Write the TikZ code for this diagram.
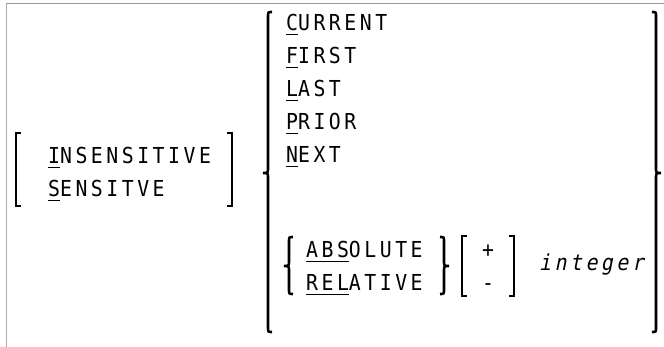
\documentclass[tikz,border=0pt]{standalone}
\usepackage{fontspec}
\newfontfamily\monofnt{DejaVu Sans Mono}[FakeStretch=0.9, LetterSpace=16]
\newfontfamily\monoitfnt{DejaVu Sans Mono}[FakeStretch=0.9, LetterSpace=16, FakeSlant=0.2]
\newcommand\ulx[1]{\setbox0\hbox{#1}\rlap{\rule[-3.5pt]{\wd0}{0.9pt}}\box0}
\newcommand\mylbrace[4]{\draw[brc] ({#1+4},#2) .. controls (#1,#2) .. (#1,{#2+5}) -- (#1,{#4-5}) .. controls (#1,#4) .. ({#1-5},#4) .. controls (#1,#4) .. (#1,{#4+5}) -- (#1,{#3-5}) .. controls (#1,#3) .. ({#1+4},#3);}
\newcommand\myrbrace[4]{\draw[brc] ({#1-4},#2) .. controls (#1,#2) .. (#1,{#2+5}) -- (#1,{#4-5}) .. controls (#1,#4) .. ({#1+5},#4) .. controls (#1,#4) .. (#1,{#4+5}) -- (#1,{#3-5}) .. controls (#1,#3) .. ({#1-4},#3);}
\newcommand\mylbrack[3]{\draw[brc,line join=miter] ({#1+5},#2) -- (#1,#2) -- (#1,#3) -- ({#1+5},#3);}
\newcommand\myrbrack[3]{\draw[brc,line join=miter] ({#1-5},#2) -- (#1,#2) -- (#1,#3) -- ({#1-5},#3);}
\tikzset{
  txt/.style={font=\monofnt\fontsize{22pt}{26pt}\selectfont, inner sep=0pt, anchor=base west},
  itxt/.style={font=\monoitfnt\fontsize{22pt}{26pt}\selectfont, inner sep=0pt, anchor=base west},
  sym/.style={font=\monofnt\fontsize{22pt}{26pt}\selectfont, inner sep=0pt, anchor=base},
  brc/.style={line width=2.6pt, black},
}
\begin{document}
\begin{tikzpicture}[x=1pt,y=-1pt]
\useasboundingbox (0,0) rectangle (664,347);
\fill[white] (0,0) rectangle (664,347);
\draw[black!40, line width=1pt] (6,3.5) -- (664,3.5);
\draw[black!32, line width=1.6pt] (6.5,3) -- (6.5,347);
% left bracket group
\mylbrack{16}{133}{206}
\myrbrack{232}{133}{206}
\node[txt] (ins) at (48,164) {\ulx{I}NSENSITIVE};
\node[txt] (sen) at (48,197) {\ulx{S}ENSITVE};
% big brace group
\mylbrace{268}{12}{332}{173}
\myrbrace{656}{12}{332}{173}
\node[txt] (cur) at (286,31) {\ulx{C}URRENT};
\node[txt] (fir) at (286,64) {\ulx{F}IRST};
\node[txt] (las) at (286,97) {\ulx{L}AST};
\node[txt] (pri) at (286,130) {\ulx{P}RIOR};
\node[txt] (nxt) at (286,163) {\ulx{N}EXT};
% absolute / relative
\mylbrace{289}{237}{294}{266}
\myrbrace{444}{237}{294}{266}
\node[txt] (abs) at (306,258) {\ulx{ABS}OLUTE};
\node[txt] (rel) at (306,291) {\ulx{REL}ATIVE};
\mylbrack{462}{236}{296}
\myrbrack{514}{236}{296}
\node[sym] (plus) at (488,258) {+};
\node[sym] (minus) at (488,291) {-};
\node[itxt] (int) at (539,271) {integer};
\end{tikzpicture}
\end{document}
